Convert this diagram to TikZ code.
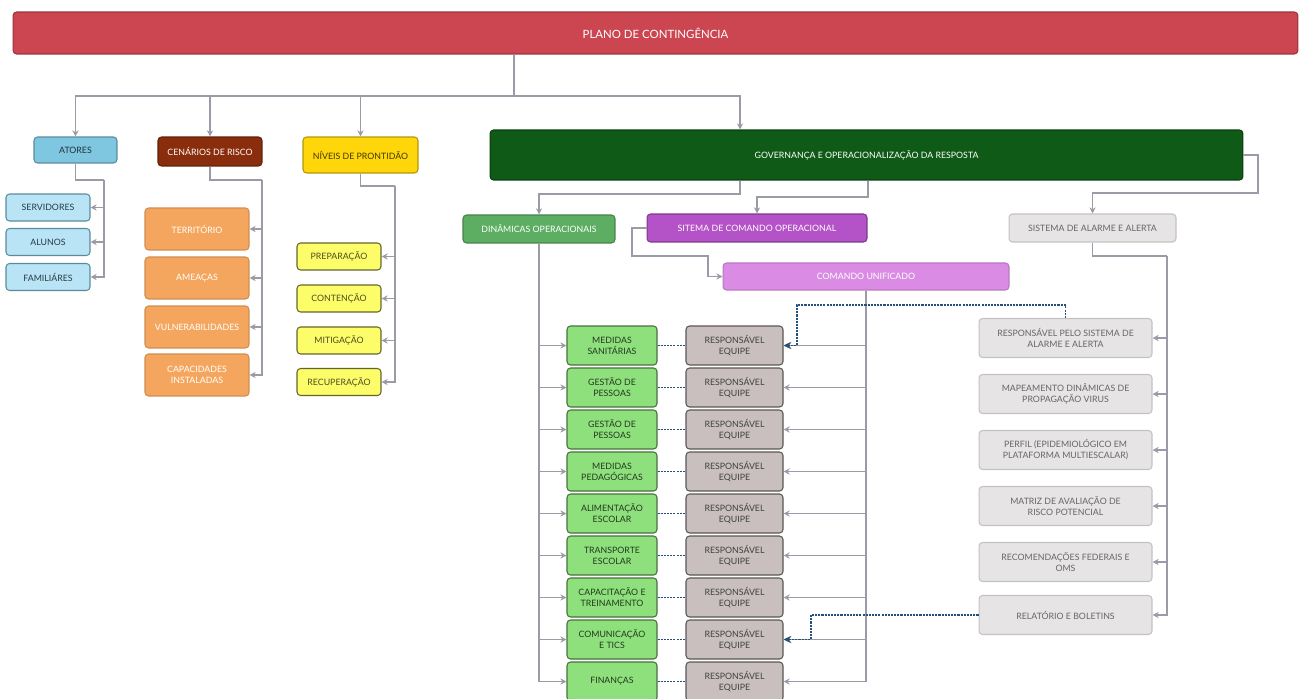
\documentclass[tikz,border=0pt]{standalone}
\usepackage{fontspec}
\setmainfont{Lato}
\usetikzlibrary{arrows.meta}
\definecolor{titulored}{HTML}{CC4652}
\definecolor{atorblue}{HTML}{7FC6E0}
\definecolor{atorlight}{HTML}{B9E4F6}
\definecolor{cenbrown}{HTML}{8A2D0D}
\definecolor{cenorange}{HTML}{F5A65E}
\definecolor{nivgold}{HTML}{FFD60A}
\definecolor{nivlight}{HTML}{FDFD6A}
\definecolor{govgreen}{HTML}{0F5A16}
\definecolor{dingreen}{HTML}{5DAE62}
\definecolor{sitpurple}{HTML}{B452C7}
\definecolor{compurple}{HTML}{DA8CE4}
\definecolor{alarmgray}{HTML}{E6E4E5}
\definecolor{boxgreen}{HTML}{8EE07C}
\definecolor{respgray}{HTML}{C9BFBF}
\definecolor{lineg}{HTML}{9B9BA8}
\definecolor{linkblue}{HTML}{24507A}
\begin{document}
\begin{tikzpicture}[x=0.02cm,y=-0.02cm,
  every node/.style={font=\fontsize{5}{6.3}\selectfont,align=center,rounded corners=2pt,inner sep=1pt},
  caixa/.style={draw,line width=0.6pt},
  titulo/.style={caixa,fill=titulored,draw=titulored!75!black,text=white,font=\fontsize{6.5}{8}\selectfont,minimum width=25.7cm,minimum height=0.84cm},
  ator/.style={caixa,fill=atorlight,draw=atorblue!70!black,text=atorblue!30!black,minimum width=1.68cm,minimum height=0.54cm},
  cenario/.style={caixa,fill=cenorange,draw=cenorange!85!black,text=white,minimum width=2.08cm,minimum height=0.84cm},
  nivel/.style={caixa,fill=nivlight,draw=nivlight!40!black,text=nivlight!30!black,minimum width=1.68cm,minimum height=0.54cm},
  dinbox/.style={caixa,fill=boxgreen,draw=boxgreen!50!black,text=boxgreen!25!black,minimum width=1.8cm,minimum height=0.78cm},
  resp/.style={caixa,fill=respgray,draw=respgray!45!black,text=black!75,minimum width=1.94cm,minimum height=0.78cm},
  alarme/.style={caixa,fill=alarmgray,draw=alarmgray!85!black,text=black!60,minimum width=3.46cm,minimum height=0.78cm},
  conn/.style={draw=lineg,line width=0.7pt},
  seta/.style={conn,-{Stealth[length=3.5pt,width=3.5pt]}},
  tracejado/.style={draw=linkblue,line width=0.7pt,dash pattern=on 1.2pt off 0.6pt},
]
\useasboundingbox (0,0) rectangle (1304,699);

\node[titulo] (titulo) at (655.5,33) {PLANO DE CONTINGÊNCIA};

\node[caixa,fill=atorblue,draw=atorblue!70!black,text=atorblue!25!black,minimum width=1.66cm,minimum height=0.52cm] (atores) at (75.5,150) {ATORES};
\node[caixa,fill=cenbrown,draw=cenbrown!70!black,text=white,minimum width=2.08cm,minimum height=0.58cm] (cenarios) at (210,151.5) {CENÁRIOS DE RISCO};
\node[caixa,fill=nivgold,draw=nivgold!70!black,text=nivgold!25!black,minimum width=2.3cm,minimum height=0.72cm] (niveis) at (360.5,155) {NÍVEIS DE PRONTIDÃO};
\node[caixa,fill=govgreen,draw=govgreen!70!black,text=white,minimum width=15.06cm,minimum height=1cm] (gov) at (866.5,155) {GOVERNANÇA E OPERACIONALIZAÇÃO DA RESPOSTA};

\coordinate (bus) at (514,96);
\draw[conn] (titulo.south -| bus) -- (bus);
\draw[seta] (bus) -| (atores);
\draw[seta] (bus) -| (cenarios);
\draw[seta] (bus) -| (niveis);
\draw[seta] (bus) -| ([xshift=-2.53cm]gov.north);

\node[ator] (servidores) at (48,207.5) {SERVIDORES};
\node[ator] (alunos) at (48,242) {ALUNOS};
\node[ator] (familiares) at (48,277) {FAMILIÁRES};
\coordinate (atbus) at (104,180);
\draw[conn] (atores.south) |- (atbus);
\foreach \c in {servidores,alunos,familiares}
  \draw[seta] (atbus) |- (\c.east);

\node[cenario] (territorio) at (197,229) {TERRITÓRIO};
\node[cenario] (ameacas) at (197,278) {AMEAÇAS};
\node[cenario] (vulner) at (197,327) {VULNERABILIDADES};
\node[cenario] (capac) at (197,375) {CAPACIDADES\\INSTALADAS};
\coordinate (cebus) at (262,180);
\draw[conn] (cenarios.south) |- (cebus);
\foreach \c in {territorio,ameacas,vulner,capac}
  \draw[seta] (cebus) |- (\c.east);

\node[nivel] (preparacao) at (339,256.5) {PREPARAÇÃO};
\node[nivel] (contencao) at (339,298.5) {CONTENÇÃO};
\node[nivel] (mitigacao) at (339,340.5) {MITIGAÇÃO};
\node[nivel] (recuperacao) at (339,382) {RECUPERAÇÃO};
\coordinate (nibus) at (395,186);
\draw[conn] (niveis.south) |- (nibus);
\foreach \c in {preparacao,contencao,mitigacao,recuperacao}
  \draw[seta] (nibus) |- (\c.east);

\node[caixa,fill=dingreen,draw=dingreen!75!black,text=white,minimum width=3.04cm,minimum height=0.56cm] (dinamicas) at (539,229) {DINÂMICAS OPERACIONAIS};
\node[caixa,fill=sitpurple,draw=sitpurple!70!black,text=white,minimum width=4.4cm,minimum height=0.56cm] (sitema) at (757,228) {SITEMA DE COMANDO OPERACIONAL};
\node[caixa,fill=compurple,draw=compurple!85!black,text=white,minimum width=5.72cm,minimum height=0.54cm] (comando) at (866,276.5) {COMANDO UNIFICADO};
\node[caixa,fill=alarmgray,draw=alarmgray!85!black,text=black!60,minimum width=3.34cm,minimum height=0.56cm] (alarmebox) at (1092.5,228) {SISTEMA DE ALARME E ALERTA};

\coordinate (g1) at (740,194);
\coordinate (g2) at (868,197);
\coordinate (g3) at (1258,193);
\draw[seta] (gov.south -| g1) -- (g1) -| (dinamicas);
\draw[seta] (gov.south -| g2) -- (g2) -| (sitema);
\draw[seta] (gov.east) -| (g3) -| (alarmebox);

\coordinate (s1) at (632,256);
\coordinate (s2) at (708,276.5);
\draw[seta] (sitema.west) -| (s1) -| (s2) -- (comando.west);

\foreach \t [count=\i] in {{MEDIDAS\\SANITÁRIAS},{GESTÃO DE\\PESSOAS},{GESTÃO DE\\PESSOAS},{MEDIDAS\\PEDAGÓGICAS},{ALIMENTAÇÃO\\ESCOLAR},{TRANSPORTE\\ESCOLAR},{CAPACITAÇÃO E\\TREINAMENTO},{COMUNICAÇÃO\\E TICS},{FINANÇAS}} {
  \node[dinbox] (g\i) at (612,303.5+42*\i) {\t};
  \node[resp] (r\i) at (734.5,303.5+42*\i) {RESPONSÁVEL\\EQUIPE};
  \draw[seta] (dinamicas.south) |- (g\i.west);
  \draw[seta] (comando.south) |- (r\i.east);
  \draw[tracejado] (g\i.east) -- (r\i.west);
}

\coordinate (abus) at (1167,256);
\draw[conn] (alarmebox.south) |- (abus);
\foreach \y/\t [count=\i] in {338/{RESPONSÁVEL PELO SISTEMA DE\\ALARME E ALERTA},394/{MAPEAMENTO DINÂMICAS DE\\PROPAGAÇÃO VIRUS},450/{PERFIL (EPIDEMIOLÓGICO EM\\PLATAFORMA MULTIESCALAR)},506/{MATRIZ DE AVALIAÇÃO DE\\RISCO POTENCIAL},562/{RECOMENDAÇÕES FEDERAIS E\\OMS},615/{RELATÓRIO E BOLETINS}} {
  \node[alarme] (a\i) at (1065.5,\y) {\t};
  \draw[seta] (abus) |- (a\i.east);
}

\coordinate (d1) at (797,305);
\coordinate (d2) at (811,615);
\draw[tracejado,-{Stealth[length=4.5pt,width=4pt]}] (a1.north) |- (d1) |- (r1.east);
\draw[tracejado,-{Stealth[length=4.5pt,width=4pt]}] (a6.west) -- (d2) |- (r8.east);
\end{tikzpicture}
\end{document}
